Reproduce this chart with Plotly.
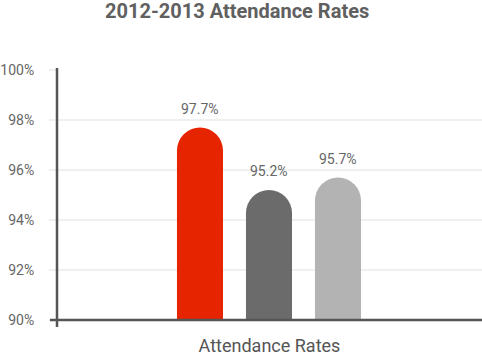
import plotly.graph_objects as go

title_text = "2012-2013 Attendance Rates"
axis_title = "Attendance Rates"
categories = ["Bar 1", "Bar 2", "Bar 3"]
values = [97.7, 95.2, 95.7]
colors = ["#e62400", "#6b6b6b", "#b3b3b3"]
y_ticks = [90, 92, 94, 96, 98, 100]
y_tick_labels = ["90%", "92%", "94%", "96%", "98%", "100%"]

FONT = "Roboto"

fig = go.Figure()
fig.add_trace(go.Bar(
    x=categories,
    y=values,
    marker=dict(color=colors, cornerradius="50%", line=dict(width=0)),
    width=0.667,
    hoverinfo="skip",
))

for c, v in zip(categories, values):
    fig.add_annotation(
        x=c, y=v, text=f"{v}%", showarrow=False,
        yanchor="bottom", yshift=9,
        font=dict(family=FONT, size=14, color="#666666"),
    )

fig.update_layout(
    width=482, height=356,
    margin=dict(l=57, r=0, t=70, b=36, autoexpand=False),
    paper_bgcolor="white", plot_bgcolor="white",
    showlegend=False,
    title=dict(
        text=f"<b>{title_text}</b>",
        x=0.492, xanchor="center",
        y=1 - 11/356, yanchor="middle", yref="container",
        font=dict(family=FONT, size=20, color="#606060"),
    ),
    xaxis=dict(
        type="category",
        range=[-2.072, 4.087],
        showticklabels=False, ticks="",
        showgrid=False, zeroline=False, showline=False,
        automargin=False,
        title=dict(text=axis_title, standoff=21,
                   font=dict(family=FONT, size=18, color="#555555")),
    ),
    yaxis=dict(
        range=[90, 100],
        tickvals=y_ticks, ticktext=y_tick_labels,
        ticks="outside", ticklen=7, tickcolor="#f0f0f0", tickwidth=2,
        ticklabelstandoff=12,
        showgrid=True, gridcolor="#f0f0f0", gridwidth=2,
        zeroline=False, showline=False,
        automargin=False,
        tickfont=dict(family=FONT, size=14, color="#666666"),
    ),
    shapes=[
        dict(type="line", xref="paper", yref="paper",
             x0=-7/425, x1=1, y0=0, y1=0,
             line=dict(color="#555555", width=2.5)),
        dict(type="line", xref="paper", yref="paper",
             x0=0, x1=0, y0=-7/250, y1=1 + 2/250,
             line=dict(color="#555555", width=2.5)),
    ],
)

fig.write_html(
    "out.html",
    config={"displayModeBar": False},
    post_script="document.body.style.margin='0';document.body.style.overflow='hidden';",
)
